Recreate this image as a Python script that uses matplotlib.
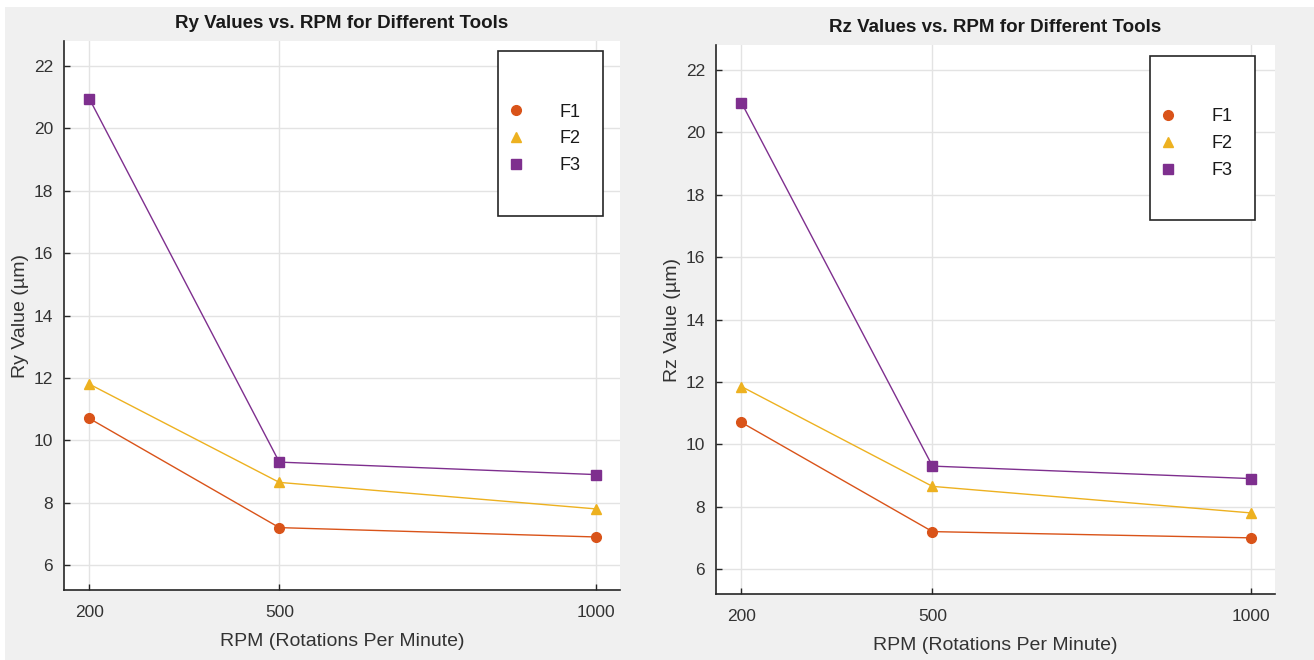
import matplotlib.pyplot as plt
from matplotlib.patches import Rectangle

rpm = [200, 500, 1000]
tools = ['F1', 'F2', 'F3']

ry_F1 = [10.7, 7.2, 6.9]
ry_F2 = [11.8, 8.65, 7.8]
ry_F3 = [20.95, 9.3, 8.9]

rz_F1 = [10.7, 7.2, 7.0]
rz_F2 = [11.85, 8.65, 7.8]
rz_F3 = [20.95, 9.3, 8.9]

colors = ['#D95319', '#EDB120', '#7E2F8E']
markers = ['o', '^', 's']

plt.rcParams['font.family'] = ['Liberation Sans', 'DejaVu Sans']

fig = plt.figure(figsize=(13.14, 6.6), dpi=100, facecolor='white')
# grey figure background with a thin white strip on top/left
fig.patches.append(Rectangle((5 / 1314, 0), 1, 1 - 7 / 660, transform=fig.transFigure,
                             facecolor='#f0f0f0', edgecolor='none', zorder=-10))


def draw_panel(pos, series, title, ylabel, legbox):
    ax = fig.add_axes(pos)
    ax.set_facecolor('white')
    for vals, c, m, name in zip(series, colors, markers, tools):
        ax.plot(rpm, vals, color=c, lw=1, marker=m, ms=7, mfc=c, mec=c, label=name)
    ax.set_xlim(160, 1038)
    ax.set_ylim(5.2, 22.8)
    ax.set_xticks(rpm)
    ax.set_yticks(range(6, 23, 2))
    ax.grid(True, color='#e3e3e3', lw=1)
    ax.set_axisbelow(True)
    for s in ['top', 'right']:
        ax.spines[s].set_visible(False)
    for s in ['left', 'bottom']:
        ax.spines[s].set_color('#262626')
        ax.spines[s].set_linewidth(1.2)
    ax.tick_params(direction='in', length=4, width=1, color='#262626',
                   labelsize=12.5, labelcolor='#333333', pad=8)
    ax.tick_params(axis='x', pad=11)
    ax.set_title(title, fontsize=13.5, fontweight='bold', color='#1a1a1a', pad=9)
    ax.set_xlabel('RPM (Rotations Per Minute)', fontsize=14, color='#333333', labelpad=9)
    ax.set_ylabel(ylabel, fontsize=14, color='#333333', labelpad=3)

    x0, y0, x1, y1 = legbox
    ax.add_patch(Rectangle((x0, y0), x1 - x0, y1 - y0, transform=ax.transAxes,
                           facecolor='white', edgecolor='#262626', lw=1.2, zorder=5))
    leg = ax.legend(loc='center', bbox_to_anchor=((x0 + x1) / 2 - 0.003, (y0 + y1) / 2 - 0.01),
                    frameon=False, fontsize=13, handlelength=0, handletextpad=2.4,
                    labelspacing=0.55, markerscale=1.0)
    leg.set_zorder(6)
    for t in leg.get_texts():
        t.set_color('#1a1a1a')
    return ax


draw_panel([64 / 1314, 70 / 660, 556 / 1314, 549 / 660],
           [ry_F1, ry_F2, ry_F3], 'Ry Values vs. RPM for Different Tools',
           'Ry Value (µm)', (0.78, 0.681, 0.969, 0.982))
draw_panel([716 / 1314, 66 / 660, 559 / 1314, 549 / 660],
           [rz_F1, rz_F2, rz_F3], 'Rz Values vs. RPM for Different Tools',
           'Rz Value (µm)', (0.776, 0.681, 0.964, 0.98))

fig.savefig('out.png', dpi=100, facecolor=fig.get_facecolor())
